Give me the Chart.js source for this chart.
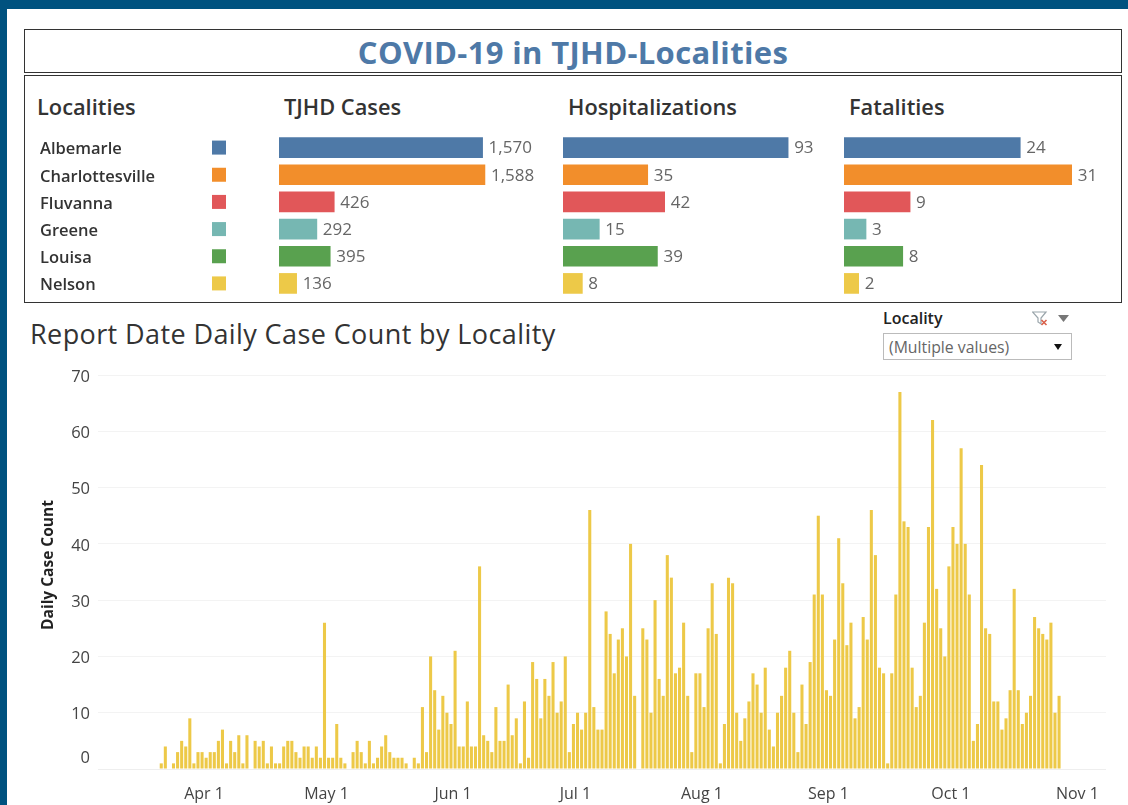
<!DOCTYPE html>
<html>
<head>
<meta charset="utf-8">
<script src="https://cdn.jsdelivr.net/npm/chart.js@4"></script>
<style>
html,body{margin:0;padding:0;background:#fff;width:1128px;height:805px;overflow:hidden;font-family:"Open Sans",sans-serif}
.abs{position:absolute}
canvas{position:absolute;display:block}
.box{position:absolute;box-sizing:border-box;border:1.5px solid #333;left:24px;width:1098px}
.hdr{position:absolute;top:93px;font-size:21.8px;font-weight:600;color:#333;line-height:28px;white-space:nowrap}
</style>
</head>
<body>
<div class="abs" style="left:0;top:0;width:1128px;height:9px;background:#00527f"></div>
<div class="abs" style="left:0;top:0;width:7px;height:805px;background:#00527f"></div>
<div class="box" style="top:29px;height:44px"></div>
<div class="box" style="top:75px;height:228px"></div>
<div class="abs" style="left:24px;width:1098px;top:29px;height:44px;line-height:47px;text-align:center;font-size:31px;letter-spacing:0.35px;font-weight:700;color:#4e79a7">COVID-19 in TJHD-Localities</div>
<div class="hdr" style="left:37px">Localities</div>
<div class="hdr" style="left:284px">TJHD Cases</div>
<div class="hdr" style="left:568px">Hospitalizations</div>
<div class="hdr" style="left:849px">Fatalities</div>
<div class="abs" style="left:30px;top:316px;font-size:27px;letter-spacing:0.4px;color:#333;line-height:36px;white-space:nowrap">Report Date Daily Case Count by Locality</div>
<div class="abs" style="left:883px;top:308px;font-size:16px;font-weight:600;color:#222;line-height:20px">Locality</div>
<svg class="abs" style="left:1032px;top:311px" width="40" height="16" viewBox="0 0 40 16">
<path d="M0.5 1 H14 L9 7 V13 L6 11 V7 Z" fill="none" stroke="#9aa5ab" stroke-width="1.2"/>
<path d="M9.5 9 L14.5 14 M14.5 9 L9.5 14" stroke="#d9604a" stroke-width="1.6"/>
<path d="M26 4 H37 L31.5 11 Z" fill="#777"/>
</svg>
<div class="abs" style="left:883px;top:333px;width:189px;height:27px;box-sizing:border-box;border:1px solid #bbb"></div>
<div class="abs" style="left:889px;top:337px;font-size:15.8px;color:#666;line-height:20px;white-space:nowrap">(Multiple values)</div>
<svg class="abs" style="left:1053px;top:344px" width="10" height="7"><path d="M1 0 H9 L5 6 Z" fill="#111"/></svg>

<canvas id="cases" width="509" height="163" style="left:40px;top:134px;width:509px;height:163px"></canvas>
<canvas id="hosp" width="275" height="163" style="left:563px;top:134px;width:275px;height:163px"></canvas>
<canvas id="fatal" width="271" height="163" style="left:844px;top:134px;width:271px;height:163px"></canvas>
<canvas id="daily" width="1076" height="445" style="left:30px;top:360px;width:1076px;height:445px"></canvas>
<div class="abs" style="left:-33px;top:555px;width:160px;height:20px;line-height:20px;text-align:center;font-size:15.5px;font-weight:700;color:#222;transform:rotate(-90deg);white-space:nowrap">Daily Case Count</div>

<script>
const localities = ['Albemarle','Charlottesville','Fluvanna','Greene','Louisa','Nelson'];
const localityColors = ['#4e79a7','#f28e2b','#e15759','#76b7b2','#59a14f','#edc948'];
const tjhdCases = [1570,1588,426,292,395,136];
const hospitalizations = [93,35,42,15,39,8];
const fatalities = [24,31,9,3,8,2];

// Daily counts, one per day from Mar 22 onward (Nelson / yellow)
const dailyMarApr = [1,4,0,1,3,5,4,9,1,3,3,2,3,3,5,7,1,5,3,6,1,6,0,5,4,5,1,4,1,1,4,5,5,3,2,4,4,2,4,2];
const dailyMayJun = [26,2,2,8,2,1,0,3,5,3,1,5,1,2,4,6,3,2,2,2,1,0,2,1,11,3,20,14,7,13,10,8,21,4,4,12,4,4,36,6,5,3,11,5,5,15,6,9,1,12,2,19,16,9,16,13,19,10,12,20,3,8,10,7,10,46];
const dailyJulAug = [11,7,7,28,24,17,23,25,20,40,13,0,25,23,10,30,16,13,38,34,17,18,26,13,3,17,17,11,25,33,24,1,8,34,33,10,5,9,12,17,15,10,18,7,4,10,13,18,21,10,3,15,8,19,31,45,31,14,13,23,41];
const dailySepOct = [33,22,26,9,11,27,23,46,38,18,17,1,17,31,67,44,43,18,11,13,26,43,62,32,25,20,36,43,40,57,40,31,5,8,54,25,24,12,12,7,9,14,32,14,8,10,13,27,25,24,23,26,10,13];
const dailyCounts = [...dailyMarApr,...dailyMayJun,...dailyJulAug,...dailySepOct];

const monthNames = ['Mar','Apr','May','Jun','Jul','Aug','Sep','Oct','Nov'];
const monthDays = [31,30,31,30,31,31,30,31,30];
const axisStartDay = 7;      // first slot of the axis: Mar 7
const axisSlots = 247;
const leadingEmptySlots = 15; // Mar 7..Mar 21 carry no bars

const dayLabels = [];
{ let m = 0, d = axisStartDay;
  for (let i = 0; i < axisSlots; i++) {
    dayLabels.push(monthNames[m] + ' ' + d);
    d++; if (d > monthDays[m]) { d = 1; m++; }
  } }
const dailySeries = dayLabels.map((_, i) => {
  const v = dailyCounts[i - leadingEmptySlots];
  return v === undefined ? null : v;
});

const FONT = '"Open Sans", sans-serif';
const valueLabels = {
  id:'valueLabels',
  afterDatasetsDraw(c){
    const ctx=c.ctx, ds=c.data.datasets[0], meta=c.getDatasetMeta(0);
    ctx.save();
    ctx.font='17px '+FONT; ctx.fillStyle='#666'; ctx.textAlign='left'; ctx.textBaseline='middle';
    meta.data.forEach((b,i)=>ctx.fillText(ds.data[i].toLocaleString('en-US'), b.x+6, b.y+1));
    ctx.restore();
  }
};
const swatches = {
  id:'swatches',
  afterDatasetsDraw(c){
    const ctx=c.ctx, meta=c.getDatasetMeta(0);
    ctx.save();
    meta.data.forEach((b,i)=>{ctx.fillStyle=localityColors[i]; ctx.fillRect(172,b.y-7,14,14);});
    ctx.restore();
  }
};
function noScalePadding(s){ s.paddingLeft=0; s.paddingRight=0; s.paddingTop=0; s.paddingBottom=0; }
function hbar(id, values, maxVal, withAxis, extra){
  return new Chart(document.getElementById(id),{
    type:'bar',
    data:{labels:localities,datasets:[{data:values,backgroundColor:localityColors,barThickness:20,borderWidth:0}]},
    options:{
      indexAxis:'y',responsive:false,animation:false,
      layout:{padding:0,autoPadding:false},
      plugins:{legend:{display:false},tooltip:{enabled:false},title:{display:false}},
      scales:{
        x:{display:false,min:0,max:maxVal},
        y:{display:withAxis,grid:{display:false,drawTicks:false},border:{display:false},
           afterFit(s){ noScalePadding(s); if(withAxis) s.width=239; },
           ticks:{crossAlign:'far',padding:0,font:{family:FONT,size:16.5,weight:'600',lineHeight:0.25},color:'#333',autoSkip:false,
             callback(v){return ['',this.getLabelForValue(v)];}}}
      }
    },
    plugins:extra
  });
}
hbar('cases',tjhdCases,2082,true,[valueLabels,swatches]);
hbar('hosp',hospitalizations,113.6,false,[valueLabels]);
hbar('fatal',fatalities,36.9,false,[valueLabels]);

new Chart(document.getElementById('daily'),{
  type:'bar',
  data:{labels:dayLabels,datasets:[{data:dailySeries,backgroundColor:'#edc948',borderWidth:0,categoryPercentage:1,barPercentage:0.75}]},
  options:{
    responsive:false,animation:false,
    layout:{padding:{top:15,left:0,right:0,bottom:0},autoPadding:false},
    plugins:{legend:{display:false},tooltip:{enabled:false}},
    scales:{
      x:{grid:{display:false,drawTicks:false},border:{color:'#eeeeee'},
         afterFit(s){noScalePadding(s); s.height=36;},
         ticks:{autoSkip:false,maxRotation:0,minRotation:0,padding:16,labelOffset:2,color:'#444',font:{family:FONT,size:16},
           callback(v){const l=this.getLabelForValue(v);return /\s1$/.test(l)?l:'';}}},
      y:{min:0,max:70,afterFit(s){noScalePadding(s); s.width=68;},
         grid:{color:'#f3f3f3',drawTicks:false},border:{display:false},
         ticks:{stepSize:10,padding:8,color:'#444',font:{family:FONT,size:16.5,lineHeight:0.25},
           callback(v){return v===0?['0','','','','','']:['',String(v)];}}}
    }
  }
});
</script>
</body>
</html>
